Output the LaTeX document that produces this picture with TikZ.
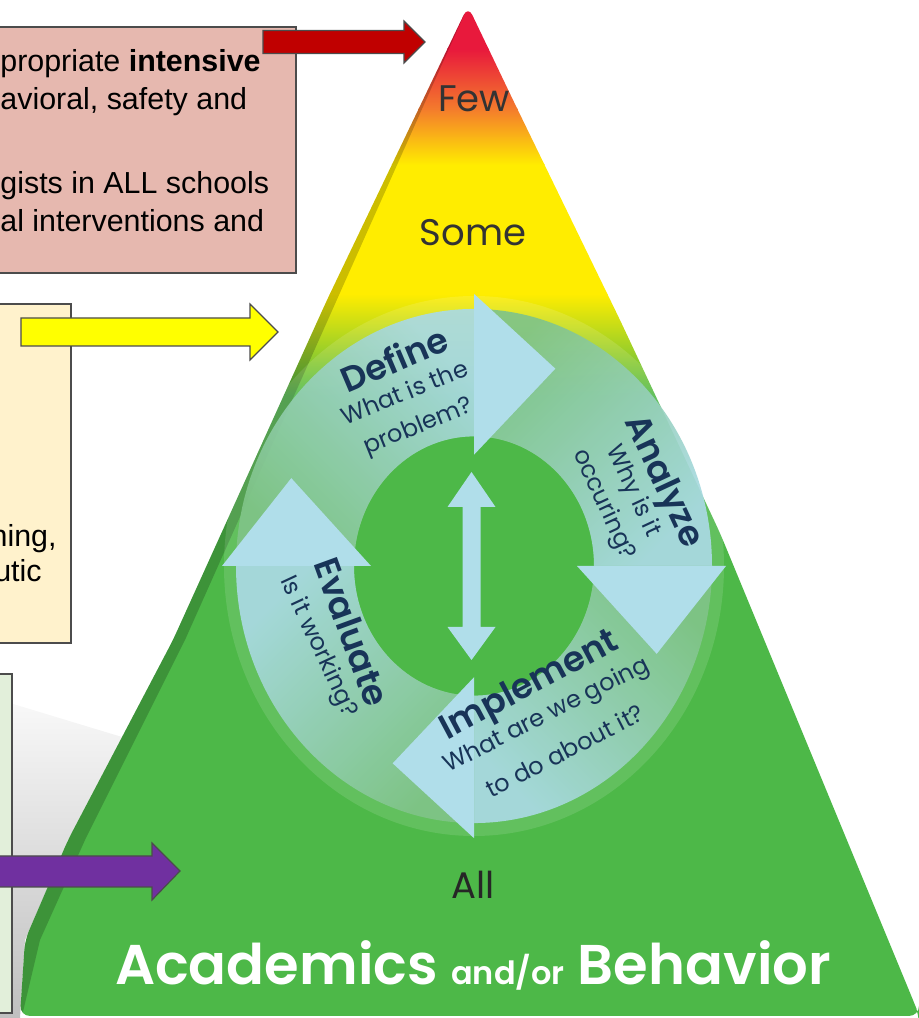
\documentclass[tikz,border=0pt]{standalone}
\usepackage{fontspec}
\usepackage{tikz}
\setmainfont{Liberation Sans}
\newfontfamily\gothic{Poppins}
\newfontfamily\gothicsemi{Poppins SemiBold}
\usetikzlibrary{positioning}

\definecolor{pinkbox}{RGB}{230,184,175}
\definecolor{creambox}{RGB}{255,242,204}
\definecolor{greenbox}{RGB}{226,239,218}
\definecolor{tierred}{RGB}{192,0,0}
\definecolor{tieryellow}{RGB}{255,255,0}
\definecolor{tierpurple}{RGB}{112,48,160}
\definecolor{pyrred}{RGB}{232,25,60}
\definecolor{pyrorange}{RGB}{244,124,44}
\definecolor{pyryellow}{RGB}{255,237,0}
\definecolor{pyrlime}{RGB}{190,214,48}
\definecolor{pyrgreen}{RGB}{77,184,72}
\definecolor{ringtail}{RGB}{128,196,136}
\definecolor{ringhead}{RGB}{170,218,228}
\definecolor{headblue}{RGB}{176,222,234}
\definecolor{navy}{RGB}{24,52,88}

\begin{document}
\begin{tikzpicture}[x=0.5pt, y=0.5pt,
    tierbox/.style={draw=black!70, line width=0.7pt},
    blockarrow/.style={draw=black!70, line width=0.6pt},
    boxtext/.style={inner sep=0pt, font=\fontsize{15.2}{19}\selectfont},
    level/.style={font=\gothic\fontsize{18.5}{22}\selectfont, text=black!80},
    stage/.style={font=\gothicsemi\fontsize{17.5}{20}\selectfont, text=navy},
    question/.style={font=\gothic\fontsize{12}{17.5}\selectfont, text=navy, align=center}]

  \useasboundingbox (0,0) rectangle (919,1018);
  \clip (0,0) rectangle (919,1018);

  % shadow left of the pyramid
  \shade[top color=gray!5, bottom color=gray!50] (0,318) -- (122,281) -- (68,178) -- (25,78) -- (20,0) -- (0,0) -- cycle;

  % pyramid with its colour bands
  \begin{scope}
    \clip[rounded corners=5] (20,2) -- (25,78) -- (68,178) -- (173,378) -- (327,718) -- (468,1012)
      -- (513,918) -- (620,698) -- (720,485) -- (913,18) -- (919,3) -- (919,2) -- cycle;
    \fill[pyrgreen] (0,0) rectangle (919,624);
    \shade[top color=pyryellow, middle color=pyrlime, bottom color=pyrgreen] (0,623) rectangle (919,724);
    \fill[pyryellow] (0,723) rectangle (919,854);
    \shade[top color=pyrorange, bottom color=pyryellow] (0,853) rectangle (919,909);
    \shade[top color=pyrred, bottom color=pyrorange] (0,908) rectangle (919,969);
    \fill[pyrred] (0,968) rectangle (919,1018);
    % side face
    \fill[black, opacity=0.2] (20,2) -- (25,78) -- (68,178) -- (173,378) -- (327,718) -- (468,1012)
      -- (185,378) -- (85,178) -- (40,78) -- (22,2) -- cycle;
  \end{scope}

  \node[level] (few) at (474,919) {Few};
  \node[level] (some) at (473,785) {Some};
  \node[level, text=black!85] (all) at (473,133) {All};
  \node[anchor=base, text=white, font=\gothicsemi\fontsize{28}{30}\selectfont] (domain) at (473,33)
    {Academics {\fontsize{16}{18}\selectfont and/or} Behavior};

  % problem solving cycle
  \begin{scope}[shift={(474,452)}, yscale=1.08]
    \fill[white, opacity=0.12, even odd rule] (0,0) circle[radius=250] (0,0) circle[radius=120];
    \shade[left color=ringtail, right color=ringhead, shading angle=135, opacity=0.92]
      (180:238) arc[start angle=180, end angle=90, radius=238] -- (90:120) arc[start angle=90, end angle=180, radius=120] -- cycle;
    \shade[left color=ringtail, right color=ringhead, shading angle=45, opacity=0.92]
      (90:238) arc[start angle=90, end angle=0, radius=238] -- (0:120) arc[start angle=0, end angle=90, radius=120] -- cycle;
    \shade[left color=ringtail, right color=ringhead, shading angle=-45, opacity=0.92]
      (0:238) arc[start angle=0, end angle=-90, radius=238] -- (-90:120) arc[start angle=-90, end angle=0, radius=120] -- cycle;
    \shade[left color=ringtail, right color=ringhead, shading angle=225, opacity=0.92]
      (270:238) arc[start angle=270, end angle=180, radius=238] -- (180:120) arc[start angle=180, end angle=270, radius=120] -- cycle;
    \foreach \a in {90,0,-90,180}
      \fill[headblue] (\a:103) -- (\a:252) -- (\a-24:200) -- cycle;
  \end{scope}

  % two way arrow in the middle
  \shade[top color=headblue, middle color=ringtail, bottom color=headblue]
    (471.5,546) -- (495.5,511) -- (480.5,511) -- (480.5,391) -- (495.5,391) -- (471.5,358)
    -- (447.5,391) -- (462.5,391) -- (462.5,511) -- (447.5,511) -- cycle;

  \node[stage, rotate=23] (define) at (394,659) {Define};
  \node[question, rotate=22] (defineq) at (412,607) {What is the\\problem?};
  \node[stage, rotate=-65] (analyze) at (662,536) {Analyze};
  \node[question, rotate=-65, font=\gothic\fontsize{12}{16}\selectfont] (analyzeq) at (618,520) {Why is it\\occuring?};
  \node[stage, rotate=-70] (evaluate) at (352,386) {Evaluate};
  \node[question, rotate=-65] (evaluateq) at (318,371) {Is it working?};
  \node[stage, rotate=28] (implement) at (530,331) {Implement};
  \node[question, rotate=27, font=\gothic\fontsize{12}{21}\selectfont] (implementq) at (555,286) {What are we going\\to do about it?};

  % text boxes, cut at the left edge
  \draw[tierbox, fill=pinkbox] (-10,745) rectangle (296,991);
  \draw[tierbox, fill=creambox] (-10,375) rectangle (71,714);
  \draw[tierbox, fill=greenbox] (-10,5) rectangle (12,344);

  \node[boxtext, anchor=base west] (intense1) at (0,946) {propriate \textbf{intensive}};
  \node[boxtext, anchor=base west] (intense2) at (0,908) {avioral, safety and};
  \node[boxtext, anchor=base west] (intense3) at (0,824) {gists in ALL schools};
  \node[boxtext, anchor=base west] (intense4) at (0,786) {al interventions and};
  \node[boxtext, anchor=base east] (target1) at (57,471) {ning,};
  \node[boxtext, anchor=base east] (target2) at (42,436) {utic};

  % block arrows
  \draw[blockarrow, fill=tierred] (263,964.5) -- (404,964.5) -- (404,955) -- (425,976) -- (404,997) -- (404,987.5) -- (263,987.5) -- cycle;
  \draw[blockarrow, fill=tieryellow] (21,672) -- (250,672) -- (250,658) -- (278,686) -- (250,714) -- (250,700) -- (21,700) -- cycle;
  \draw[blockarrow, fill=tierpurple] (-10,131) -- (152,131) -- (152,118) -- (180,147) -- (152,175) -- (152,162) -- (-10,162) -- cycle;
\end{tikzpicture}
\end{document}
